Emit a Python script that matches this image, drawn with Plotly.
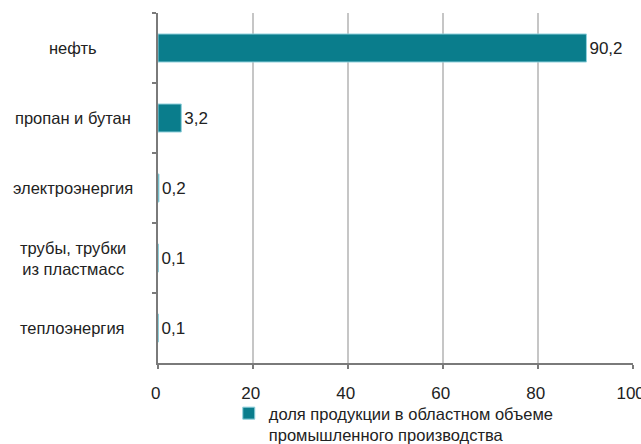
import plotly.graph_objects as go

# categories from top to bottom
categories = ["нефть", "пропан и бутан", "электроэнергия", "трубы, трубки<br>из пластмасс", "теплоэнергия"]
# bar lengths as drawn in the picture
values = [90.2, 4.9, 0.2, 0.1, 0.1]
# printed value labels
labels = ["90,2", "3,2", "0,2", "0,1", "0,1"]
series_name = "доля продукции в областном объеме<br>промышленного производства"
x_ticks = [0, 20, 40, 60, 80, 100]

TEAL = "#0a7d8c"
FONT = "Liberation Sans, Arial, sans-serif"

fig = go.Figure()
fig.add_trace(go.Bar(
    x=values, y=categories, orientation="h",
    name=series_name,
    marker=dict(color=TEAL, line=dict(color="#8fd0dc", width=1)),
    text=labels, textposition="outside", cliponaxis=False,
    textfont=dict(size=17, color="#222222", family=FONT),
))

# category labels, centred in the left margin
for c in categories:
    fig.add_annotation(
        x=-0.18, xref="paper", y=c, yref="y", text=c, showarrow=False,
        xanchor="center", align="center",
        font=dict(size=16.5, color="#222222", family=FONT),
    )

# tick labels sit a little left of their gridlines in the original
fig.update_xaxes(
    range=[0, 100], tickvals=x_ticks,
    ticktext=[str(t) + "\u00a0" for t in x_ticks],
    showgrid=True, gridcolor="#c6c6c6", gridwidth=1.5,
    showline=True, linecolor="#7a7a7a", linewidth=1.5,
    ticks="outside", ticklen=4, tickcolor="#7a7a7a", tickwidth=1.5,
    ticklabelstandoff=10, ticklabeloverflow="allow",
    zeroline=False, automargin=False,
    tickfont=dict(size=17, color="#222222", family=FONT),
)
fig.update_yaxes(
    autorange="reversed", showticklabels=False,
    showline=True, linecolor="#7a7a7a", linewidth=1.5,
    ticks="outside", ticklen=4, tickcolor="#7a7a7a", tickwidth=1.5,
    tickson="boundaries", showgrid=False, automargin=False,
)

fig.update_layout(
    width=641, height=444,
    margin=dict(l=158, r=8, t=13, b=81, autoexpand=False),
    paper_bgcolor="white", plot_bgcolor="white",
    bargap=0.6,
    showlegend=True,
    legend=dict(
        x=0.149, xanchor="left", y=-0.094, yanchor="top",
        orientation="h", valign="top", bgcolor="rgba(0,0,0,0)",
        font=dict(size=16.5, color="#222222", family=FONT),
    ),
    font=dict(family=FONT),
)

# the page body has a default 8px margin; drop it so the figure sits at 0,0
fig.write_html("out.html", config={"displayModeBar": False},
               post_script="document.body.style.margin='0';")
